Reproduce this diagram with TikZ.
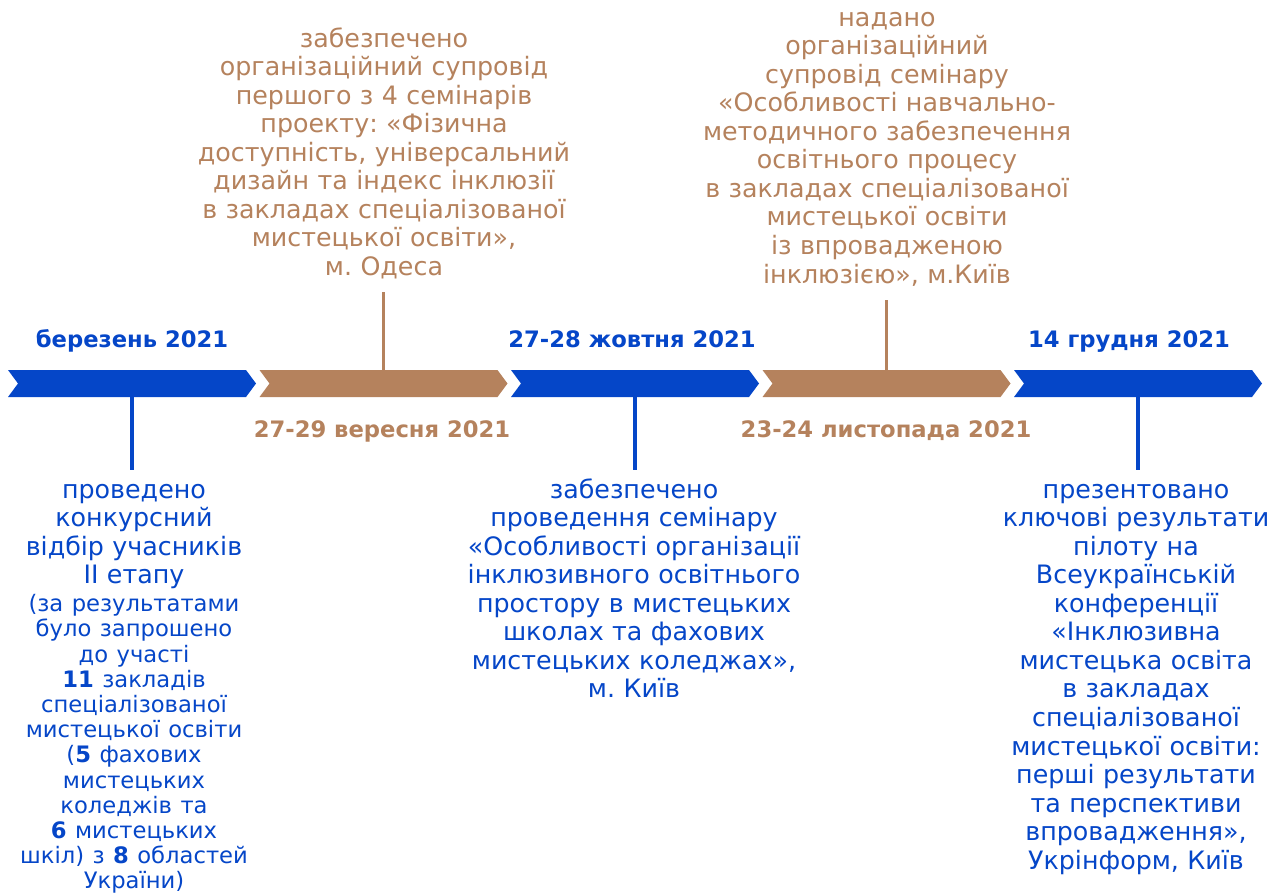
\documentclass[tikz,border=0pt]{standalone}
\usepackage{fontspec}
\setmainfont{DejaVu Sans}
\setlength{\parindent}{0pt}
\frenchspacing

\definecolor{tlblue}{RGB}{5,70,200}
\definecolor{tlbrown}{RGB}{181,130,93}

\newcommand{\notefont}{\fontsize{19pt}{21.4pt}\selectfont}
\newcommand{\smallnotefont}{\fontsize{17pt}{18.9pt}\selectfont}
\newcommand{\datefont}{\fontsize{17pt}{20pt}\selectfont\bfseries}

\tikzset{
  stem/.style={draw=#1, line width=2.6pt},
  datelabel/.style={font=\datefont, text=#1, inner sep=0pt, anchor=base},
  note/.style={font=\notefont, text=#1, align=center, inner xsep=0pt, inner ysep=6pt},
}

\begin{document}
\begin{tikzpicture}[x=0.75pt, y=-0.75pt]
  \useasboundingbox (0,0) rectangle (1276,894);

  % Chevrons of the time line
  \foreach \i/\c in {0/tlblue,1/tlbrown,2/tlblue,3/tlbrown,4/tlblue} {
    \pgfmathsetmacro\xa{8+251.5*\i}
    \fill[\c] (\xa,370) -- (\xa+238,370) -- (\xa+248,383.5) -- (\xa+238,397)
      -- (\xa,397) -- (\xa+10,383.5) -- cycle;
    \coordinate (top\i) at (\xa+124,370);
    \coordinate (bot\i) at (\xa+124,397);
  }

  % Dates
  \node[datelabel=tlblue] (d0) at (132,347) {березень 2021};
  \node[datelabel=tlbrown] (d1) at (382,437) {27-29 вересня 2021};
  \node[datelabel=tlblue] (d2) at (632,347) {27-28 жовтня 2021};
  \node[datelabel=tlbrown] (d3) at (886,437) {23-24 листопада 2021};
  \node[datelabel=tlblue] (d4) at (1129,347) {14 грудня 2021};

  % Notes above
  \node[note=tlbrown, text width=300pt, anchor=north] (n1) at (384,19)
    {\strut забезпечено\\ організаційний супровід\\ першого з 4 семінарів\\
     проекту: «Фізична\\ доступність, універсальний\\ дизайн та індекс інклюзії\\
     в закладах спеціалізованої\\ мистецької освіти»,\\ м. Одеса\strut};
  \node[note=tlbrown, text width=300pt, anchor=north] (n3) at (887,-2)
    {\strut надано\\ організаційний\\ супровід семінару\\ «Особливості навчально-\\
     методичного забезпечення\\ освітнього процесу\\ в закладах спеціалізованої\\
     мистецької освіти\\ із впровадженою\\ інклюзією», м.Київ\strut};

  % Notes below
  \node[note=tlblue, text width=200pt, anchor=north] (n0) at (134,470)
    {\strut проведено\\ конкурсний\\ відбір учасників\\ II етапу\par\vspace{2pt}
     {\smallnotefont (за результатами\\ було запрошено\\ до участі\\
     \textbf{11} закладів\\ спеціалізованої\\ мистецької освіти\\
     (\textbf{5} фахових\\ мистецьких\\ коледжів та\\ \textbf{6} мистецьких\\
     шкіл) з \textbf{8} областей\\ України)\par}};
  \node[note=tlblue, text width=290pt, anchor=north] (n2) at (634,470)
    {\strut забезпечено\\ проведення семінару\\ «Особливості організації\\
     інклюзивного освітнього\\ простору в мистецьких\\ школах та фахових\\
     мистецьких коледжах»,\\ м. Київ};
  \node[note=tlblue, text width=230pt, anchor=north] (n4) at (1136,470)
    {\strut презентовано\\ ключові результати\\ пілоту на\\ Всеукраїнській\\
     конференції\\ «Інклюзивна\\ мистецька освіта\\ в закладах\\ спеціалізованої\\
     мистецької освіти:\\ перші результати\\ та перспективи\\ впровадження»,\\
     Укрінформ, Київ};

  % Stems
  \draw[stem=tlblue] (bot0) -- (bot0 |- n0.north);
  \draw[stem=tlbrown] (top1) -- (top1 |- n1.south);
  \draw[stem=tlblue] (bot2) -- (bot2 |- n2.north);
  \draw[stem=tlbrown] (top3) -- (top3 |- n3.south);
  \draw[stem=tlblue] (bot4) -- (bot4 |- n4.north);
\end{tikzpicture}
\end{document}
